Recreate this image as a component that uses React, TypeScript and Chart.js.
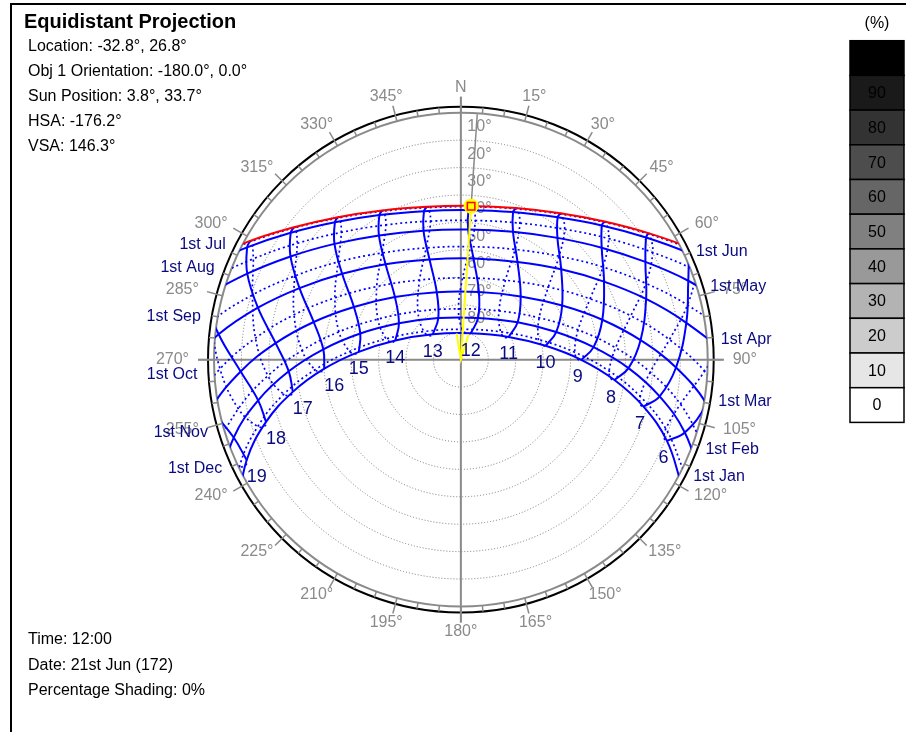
import { useEffect, useRef } from 'react';
import { Chart, registerables } from 'chart.js';

Chart.register(...registerables);

const D2R = Math.PI / 180;

// Clock hours of the sampled sun positions (05:00 … 20:00, SAST)
const HOURS = [5, 6, 7, 8, 9, 10, 11, 12, 13, 14, 15, 16, 17, 18, 19, 20];
const HOUR_LINES = [6, 7, 8, 9, 10, 11, 12, 13, 14, 15, 16, 17, 18, 19];

// Sun position [azimuth°, altitude°] for each hour above; null = far below horizon
const JAN_1 = [[119.4, -2.2], [111.6, 9.2], [104.5, 21.2], [97.6, 33.5], [90.1, 46.1], [80.7, 58.7], [64.5, 70.7], [20.6, 79.7], [312.2, 76.2], [286.4, 65.1], [274.4, 52.7], [266.2, 40.1], [259.1, 27.6], [252.2, 15.4], [244.8, 3.7], [236.5, -7.3]];
const FEB_1 = [[116.4, -7.6], [108.1, 4.1], [100.5, 16.3], [92.9, 28.8], [84.6, 41.4], [73.8, 53.8], [56.6, 65.2], [22.3, 73.5], [331.6, 72.7], [300.5, 63.8], [284.6, 52.1], [274.3, 39.7], [266.1, 27.1], [258.6, 14.6], [251.0, 2.4], [242.5, -9.2]];
const MAR_1 = [[108.8, -13.2], [100.2, -1.0], [92.1, 11.5], [83.8, 24.1], [74.2, 36.4], [61.8, 48.1], [43.3, 58.2], [14.9, 64.4], [340.4, 63.8], [313.6, 56.8], [296.3, 46.5], [284.4, 34.6], [275.1, 22.2], [266.9, 9.6], [258.8, -2.9], [250.1, -15.1]];
const APR_1 = [[97.2, -18.4], [88.8, -5.9], [80.7, 6.7], [71.8, 18.9], [61.3, 30.5], [47.9, 40.7], [30.0, 48.7], [7.1, 52.7], [342.7, 51.6], [321.8, 45.6], [306.0, 36.5], [294.0, 25.6], [284.4, 13.6], [276.0, 1.2], [267.9, -11.4], null];
const MAY_1 = [null, [78.8, -9.9], [70.8, 2.2], [62.0, 13.8], [51.4, 24.3], [38.3, 33.2], [22.1, 39.5], [3.2, 42.3], [343.9, 40.9], [326.7, 35.6], [312.6, 27.4], [301.3, 17.3], [292.0, 6.0], [283.9, -6.0], [276.2, -18.4], null];
const JUN_1 = [null, [72.5, -13.7], [65.0, -2.0], [56.5, 9.0], [46.3, 18.9], [34.1, 27.1], [19.4, 32.7], [2.9, 35.2], [346.1, 34.0], [330.7, 29.3], [317.6, 21.9], [306.8, 12.5], [297.8, 1.9], [290.0, -9.7], [282.9, -21.8], null];
const JUL_1 = [null, [72.1, -15.5], [64.8, -3.8], [56.4, 7.2], [46.6, 17.0], [34.7, 25.3], [20.5, 31.1], [4.5, 33.9], [348.0, 33.1], [332.7, 28.8], [319.6, 21.8], [308.7, 12.7], [299.6, 2.3], [291.8, -9.1], [284.7, -21.1], null];
const AUG_1 = [null, [76.9, -13.7], [69.2, -1.7], [60.7, 9.8], [50.6, 20.2], [38.4, 29.1], [23.3, 35.6], [5.9, 38.8], [347.7, 38.1], [331.0, 33.6], [316.9, 26.2], [305.5, 16.7], [296.0, 5.8], [287.9, -5.8], [280.4, -18.1], null];
const SEP_1 = [[92.5, -20.1], [84.5, -7.4], [76.4, 5.0], [67.5, 17.0], [56.8, 28.1], [43.4, 37.9], [26.1, 45.1], [4.9, 48.5], [342.8, 47.2], [323.6, 41.5], [308.6, 32.7], [296.8, 22.1], [287.3, 10.4], [278.9, -1.9], [270.9, -14.4], null];
const OCT_1 = [[100.9, -11.5], [92.7, 1.0], [84.5, 13.6], [75.5, 26.0], [64.7, 37.9], [50.2, 48.5], [29.2, 56.7], [1.2, 60.1], [332.7, 57.2], [311.1, 49.3], [296.2, 38.8], [285.1, 27.0], [276.0, 14.7], [267.8, 2.1], [259.5, -10.4], null];
const NOV_1 = [[109.5, -3.8], [101.5, 8.3], [93.8, 20.8], [85.6, 33.4], [75.7, 45.9], [61.8, 57.6], [37.9, 67.4], [357.3, 71.4], [318.4, 66.4], [296.1, 56.3], [282.9, 44.4], [273.3, 32.0], [265.2, 19.4], [257.5, 6.9], [249.4, -5.1], [240.2, -16.5]];
const DEC_1 = [[116.4, -0.5], [108.7, 11.1], [101.6, 23.3], [94.4, 35.8], [86.3, 48.4], [75.4, 60.8], [54.9, 72.3], [2.5, 78.9], [307.2, 73.0], [285.6, 61.7], [274.2, 49.3], [266.0, 36.7], [258.9, 24.2], [251.7, 12.0], [244.1, 0.3], [235.4, -10.6]];
const JUN_21 = [null, [71.6, -15.2], [64.3, -3.6], [55.9, 7.4], [46.0, 17.2], [34.1, 25.3], [19.9, 31.0], [3.9, 33.6], [347.5, 32.7], [332.3, 28.3], [319.3, 21.2], [308.5, 12.2], [299.5, 1.7], [291.7, -9.7], [284.7, -21.6], null];
const DEC_21 = [[119.0, -1.0], [111.3, 10.4], [104.2, 22.4], [97.4, 34.7], [89.9, 47.3], [80.3, 59.9], [63.4, 71.9], [14.7, 80.3], [307.7, 75.7], [284.3, 64.2], [273.1, 51.8], [265.1, 39.2], [258.2, 26.7], [251.3, 14.6], [243.9, 2.9], [235.4, -8.0]];

const MONTH_LABELS = ['1st Jan', '1st Feb', '1st Mar', '1st Apr', '1st May', '1st Jun', '1st Jul', '1st Aug', '1st Sep', '1st Oct', '1st Nov', '1st Dec'];
const SUNRISE_AZ = [117.8, 110.9, 99.5, 85.1, 72.4, 63.6, 62.1, 68.1, 79.7, 93.3, 106.8, 116.0];
const SUNSET_AZ = [242.3, 249.3, 260.7, 275.2, 287.8, 296.4, 297.9, 291.8, 280.1, 266.5, 252.9, 243.9];

// Current sun: azimuth, altitude
const SUN_NOW = [3.8, 33.7];

const ALT_RINGS = [10, 20, 30, 40, 50, 60, 70, 80];
const LEGEND_LEVELS = [100, 90, 80, 70, 60, 50, 40, 30, 20, 10, 0];
const LEGEND_SHADES = ['#000000', '#1a1a1a', '#333333', '#4d4d4d', '#666666', '#808080', '#999999', '#b3b3b3', '#cccccc', '#e6e6e6', '#ffffff'];

const TITLE = 'Equidistant Projection';
const INFO_LINES = ['Location: -32.8°, 26.8°', 'Obj 1 Orientation: -180.0°, 0.0°', 'Sun Position: 3.8°, 33.7°', 'HSA: -176.2°', 'VSA: 146.3°'];
const FOOTER_LINES = ['Time: 12:00', 'Date: 21st Jun (172)', 'Percentage Shading: 0%'];

const W = 906;
const H = 732;
const CX = 461;
const CY = 359.5;
const PX_PER_DEG = 251 / 90;

const BLUE = '#0000ff';
const NAVY = '#0a0a80';
const GREY = '#8a8a8a';
const FONT = '"Liberation Sans", Arial, sans-serif';

type P = number[] | null;

const proj = (p: number[]) => ({
  x: (90 - p[1]) * Math.sin(p[0] * D2R),
  y: (90 - p[1]) * Math.cos(p[0] * D2R),
});
const path = (pts: P[]) => pts.filter((p): p is number[] => p !== null).map(proj);

const MONTH_ROWS = [JAN_1, FEB_1, MAR_1, APR_1, MAY_1, JUN_1, JUL_1, AUG_1, SEP_1, OCT_1, NOV_1, DEC_1];
const FIRST_HALF = [JAN_1, FEB_1, MAR_1, APR_1, MAY_1, JUN_1, JUN_21];
const SECOND_HALF = [JUN_21, JUL_1, AUG_1, SEP_1, OCT_1, NOV_1, DEC_1, DEC_21, JAN_1];

const lineBase = { showLine: true, pointRadius: 0, fill: false, tension: 0.4 };

function buildDatasets() {
  const sets: any[] = [];
  // sun marker, ray to the observer and ray to the horizon
  sets.push({ data: [proj(SUN_NOW)], pointStyle: 'rect', pointRadius: 5.3, backgroundColor: 'rgba(0,0,0,0)', borderColor: '#ff0000', borderWidth: 1.5, order: 0 });
  sets.push({ data: [proj(SUN_NOW)], pointStyle: 'circle', pointRadius: 7.5, backgroundColor: '#ffff00', borderWidth: 0, order: 1 });
  sets.push({ ...lineBase, tension: 0, data: [proj(SUN_NOW), proj([SUN_NOW[0], 90])], borderColor: '#ffff00', borderWidth: 2, order: 2 });
  sets.push({ ...lineBase, tension: 0, data: [proj(SUN_NOW), proj([SUN_NOW[0], 0])], borderColor: GREY, borderWidth: 1.5, order: 3 });
  // current date path
  sets.push({ ...lineBase, data: path(JUN_21), borderColor: '#ff0000', borderWidth: 2, order: 4 });
  // monthly date lines: Jan–Jun solid, Jul–Dec dotted
  MONTH_ROWS.forEach((row, i) => {
    sets.push({ ...lineBase, data: path(row), borderColor: BLUE, borderWidth: i < 6 ? 2 : 1.7, borderDash: i < 6 ? [] : [2, 3], order: 10 });
  });
  // hour lines (analemmas): first half of the year solid, second half dotted
  HOUR_LINES.forEach((h) => {
    const hi = HOURS.indexOf(h);
    sets.push({ ...lineBase, data: path(FIRST_HALF.map((r) => r[hi])), borderColor: BLUE, borderWidth: 2, order: 10 });
    sets.push({ ...lineBase, data: path(SECOND_HALF.map((r) => r[hi])), borderColor: BLUE, borderWidth: 1.7, borderDash: [2, 3], order: 10 });
  });
  return sets;
}

const sunPathPlugin = {
  id: 'sunPathFrame',
  beforeDatasetsDraw(chart: any) {
    const { ctx } = chart;
    const xs = chart.scales.x;
    const ys = chart.scales.y;
    const cx = xs.getPixelForValue(0);
    const cy = ys.getPixelForValue(0);
    const R = xs.getPixelForValue(90) - cx;
    const pol = (az: number, r: number) => [cx + r * Math.sin(az * D2R), cy - r * Math.cos(az * D2R)];

    ctx.save();
    ctx.fillStyle = '#ffffff';
    ctx.fillRect(0, 0, W, H);

    // panel frame
    ctx.strokeStyle = '#000000';
    ctx.lineWidth = 2;
    ctx.beginPath();
    ctx.moveTo(11, H);
    ctx.lineTo(11, 4);
    ctx.lineTo(W, 4);
    ctx.stroke();

    // altitude rings
    ctx.strokeStyle = '#7a7a7a';
    ctx.lineWidth = 1;
    ctx.setLineDash([1, 2]);
    ALT_RINGS.forEach((a) => {
      ctx.beginPath();
      ctx.arc(cx, cy, (90 - a) * (R / 90), 0, Math.PI * 2);
      ctx.stroke();
    });
    ctx.setLineDash([]);

    // horizon and outer rim
    ctx.strokeStyle = GREY;
    ctx.lineWidth = 2;
    ctx.beginPath();
    ctx.arc(cx, cy, R, 0, Math.PI * 2);
    ctx.stroke();
    ctx.strokeStyle = '#000000';
    ctx.beginPath();
    ctx.arc(cx, cy, R + 6, 0, Math.PI * 2);
    ctx.stroke();

    // azimuth ticks and axes
    ctx.strokeStyle = GREY;
    ctx.lineWidth = 1.5;
    for (let az = 0; az < 360; az += 5) {
      const major = az % 15 === 0;
      const [x0, y0] = pol(az, R);
      const [x1, y1] = pol(az, major ? R + 16 : R + 6);
      ctx.beginPath();
      ctx.moveTo(x0, y0);
      ctx.lineTo(x1, y1);
      ctx.stroke();
    }
    ctx.lineWidth = 2;
    [0, 90].forEach((az) => {
      const [x0, y0] = pol(az, R + 16);
      const [x1, y1] = pol(az + 180, R + 16);
      ctx.beginPath();
      ctx.moveTo(x0, y0);
      ctx.lineTo(x1, y1);
      ctx.stroke();
    });

    // azimuth labels
    ctx.fillStyle = GREY;
    ctx.font = `16px ${FONT}`;
    ctx.textAlign = 'center';
    ctx.textBaseline = 'middle';
    for (let az = 0; az < 360; az += 15) {
      const txt = az === 0 ? 'N' : `${az}°`;
      const w = ctx.measureText(txt).width;
      const [px, py] = pol(az, R + 25);
      ctx.fillText(txt, px + (w / 2) * Math.sin(az * D2R), py);
    }

    // altitude ring labels
    ctx.textAlign = 'left';
    ALT_RINGS.forEach((a) => {
      ctx.fillText(`${a}°`, cx + 6.5, cy - (90 - a) * (R / 90) - 13.5);
    });

    // header and footer text
    ctx.fillStyle = '#000000';
    ctx.font = `bold 20px ${FONT}`;
    ctx.fillText(TITLE, 24, 22);
    ctx.font = `16px ${FONT}`;
    INFO_LINES.forEach((t, i) => ctx.fillText(t, 28, 47 + i * 25));
    FOOTER_LINES.forEach((t, i) => ctx.fillText(t, 28, 640 + i * 25.5));

    // shading legend
    ctx.textAlign = 'center';
    ctx.fillText('(%)', 877, 23.5);
    const bh = 34.7;
    LEGEND_LEVELS.forEach((lv, i) => {
      const top = 40.7 + i * bh;
      ctx.fillStyle = LEGEND_SHADES[i];
      ctx.fillRect(850, top, 54, bh);
      ctx.strokeStyle = '#000000';
      ctx.lineWidth = 1.5;
      ctx.strokeRect(850, top, 54, bh);
      if (lv < 100) {
        ctx.fillStyle = '#000000';
        ctx.fillText(String(lv), 877, top + bh / 2 + 1);
      }
    });
    ctx.restore();

    // keep the sun-path curves inside the horizon
    ctx.save();
    ctx.beginPath();
    ctx.arc(cx, cy, R, 0, Math.PI * 2);
    ctx.clip();
  },
  afterDatasetsDraw(chart: any) {
    const { ctx } = chart;
    ctx.restore();
    const xs = chart.scales.x;
    const ys = chart.scales.y;
    const cx = xs.getPixelForValue(0);
    const cy = ys.getPixelForValue(0);
    const R = xs.getPixelForValue(90) - cx;
    const pol = (az: number, r: number) => [cx + r * Math.sin(az * D2R), cy - r * Math.cos(az * D2R)];
    const toPx = (p: number[]) => {
      const q = proj(p);
      return [xs.getPixelForValue(q.x), ys.getPixelForValue(q.y)];
    };

    ctx.save();
    // arrow head of the sun ray at the observer
    const [sx, sy] = toPx(SUN_NOW);
    const ang = Math.atan2(cy - sy, cx - sx);
    ctx.strokeStyle = '#ffff00';
    ctx.lineWidth = 2;
    ctx.beginPath();
    ctx.moveTo(cx - 26 * Math.cos(ang) + 6 * Math.sin(ang), cy - 26 * Math.sin(ang) - 6 * Math.cos(ang));
    ctx.lineTo(cx, cy);
    ctx.lineTo(cx - 26 * Math.cos(ang) - 6 * Math.sin(ang), cy - 26 * Math.sin(ang) + 6 * Math.cos(ang));
    ctx.stroke();

    // date line labels at the sunrise / sunset end of each line
    ctx.fillStyle = NAVY;
    ctx.font = `16px ${FONT}`;
    ctx.textBaseline = 'middle';
    MONTH_LABELS.forEach((lab, i) => {
      if (i < 6) {
        const [px, py] = pol(SUNRISE_AZ[i], R);
        ctx.textAlign = 'left';
        ctx.fillText(lab, px + 14, py + 1.5);
      } else {
        const [px, py] = pol(SUNSET_AZ[i], R);
        ctx.textAlign = 'right';
        ctx.fillText(lab, px - 17, py);
      }
    });

    // hour labels below the 1st January point of each hour line
    ctx.font = `18px ${FONT}`;
    ctx.textAlign = 'center';
    HOUR_LINES.forEach((h) => {
      const p = JAN_1[HOURS.indexOf(h)] as number[];
      const [px, py] = toPx(p);
      const dx = h >= 16 ? 10 : h <= 9 ? -3.5 : 0;
      ctx.fillText(String(h), px + dx, py + 17.5);
    });
    ctx.restore();
  },
};

export default function App() {
  const ref = useRef<HTMLCanvasElement>(null);
  useEffect(() => {
    if (!ref.current) return;
    const chart = new Chart(ref.current, {
      type: 'scatter',
      data: { datasets: buildDatasets() },
      options: {
        animation: false,
        responsive: false,
        events: [],
        layout: { padding: 0 },
        plugins: { legend: { display: false }, tooltip: { enabled: false } },
        scales: {
          x: { type: 'linear', display: false, min: -CX / PX_PER_DEG, max: (W - CX) / PX_PER_DEG },
          y: { type: 'linear', display: false, min: -(H - CY) / PX_PER_DEG, max: CY / PX_PER_DEG },
        },
      },
      plugins: [sunPathPlugin],
    });
    return () => chart.destroy();
  }, []);
  return (
    <div style={{ position: 'absolute', left: 0, top: 0, width: W, height: H, background: '#ffffff' }}>
      <canvas ref={ref} width={W} height={H} style={{ display: 'block' }} />
    </div>
  );
}
